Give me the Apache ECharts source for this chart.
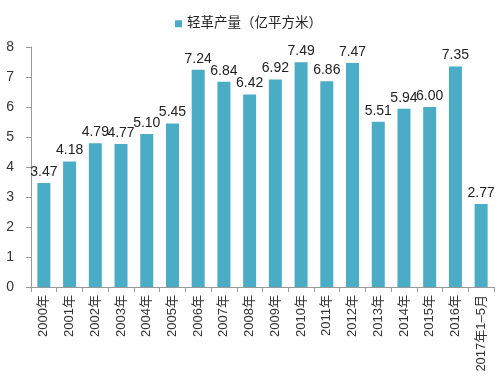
<!DOCTYPE html>
<html><head><meta charset="utf-8">
<script src="https://cdn.jsdelivr.net/npm/echarts@6/dist/echarts.min.js"></script>
<style>html,body{margin:0;padding:0;background:#fff}#c{width:498px;height:385px}</style>
</head><body><div id="c"></div>
<script>
var categories = ['2000年','2001年','2002年','2003年','2004年','2005年','2006年','2007年','2008年','2009年','2010年','2011年','2012年','2013年','2014年','2015年','2016年','2017年1–5月'];
var values = [3.47,4.18,4.79,4.77,5.10,5.45,7.24,6.84,6.42,6.92,7.49,6.86,7.47,5.51,5.94,6.00,7.35,2.77];
var seriesName = '轻革产量（亿平方米）';
var yTicks = [0,1,2,3,4,5,6,7,8];
var font = '"Liberation Sans","Noto Sans CJK SC",sans-serif';
var chart = echarts.init(document.getElementById('c'));
chart.setOption({
  animation:false,
  textStyle:{fontFamily:font},
  legend:{top:12,left:170,itemWidth:7,itemHeight:7,icon:'rect',itemGap:3,
    textStyle:{fontSize:13.5,color:'#222',fontFamily:font},data:[seriesName]},
  grid:{left:31,right:4,top:47,bottom:98,containLabel:false},
  xAxis:{type:'category',data:categories,
    axisLine:{lineStyle:{color:'#999'}},
    axisTick:{show:true,lineStyle:{color:'#999'},length:5},
    axisLabel:{rotate:90,fontSize:13,color:'#333',interval:0,margin:8,fontFamily:font}},
  yAxis:{type:'value',min:yTicks[0],max:yTicks[yTicks.length-1],interval:1,
    axisLine:{show:true,lineStyle:{color:'#999'}},
    axisTick:{show:true,length:5,lineStyle:{color:'#999'}},
    splitLine:{show:false},
    axisLabel:{fontSize:14,color:'#333',margin:17,fontFamily:font}},
  series:[{name:seriesName,type:'bar',data:values,barWidth:13,
    itemStyle:{color:'#4bacc6'},
    label:{show:true,position:'top',distance:4,fontSize:14,color:'#222',fontFamily:font,
      formatter:function(p){return p.value.toFixed(2);}}}]
});
</script></body></html>
